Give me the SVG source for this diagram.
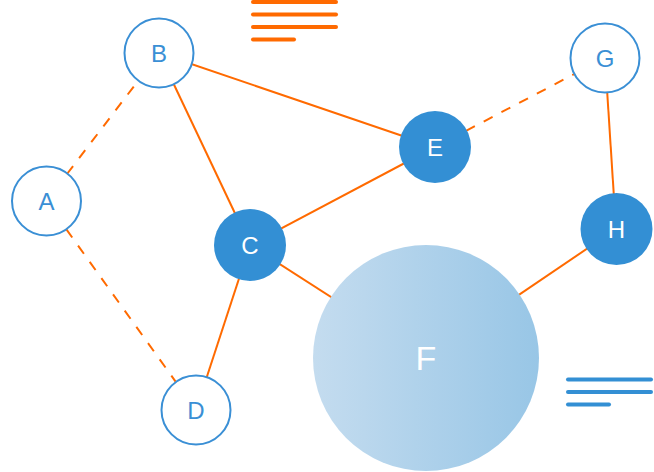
<svg xmlns="http://www.w3.org/2000/svg" width="654" height="472" viewBox="0 0 654 472">
  <defs>
    <linearGradient id="gradF" x1="0" y1="0" x2="1" y2="0">
      <stop offset="0" stop-color="#c4dcef"/>
      <stop offset="1" stop-color="#98c6e6"/>
    </linearGradient>
    <style>
      .edge { stroke: #ff6a00; stroke-width: 2; fill: none; }
      .dash { stroke-dasharray: 10 10; }
      .outline { fill: #ffffff; stroke: #3a8fd5; stroke-width: 2; }
      .filled { fill: #338fd4; }
      .lbl { font-family: "Liberation Sans", Arial, sans-serif; font-size: 24px; text-anchor: middle; dominant-baseline: central; }
      .lblB { fill: #3a8fd5; }
      .lblW { fill: #ffffff; }
      .deco-o { stroke: #ff6a00; stroke-width: 4; stroke-linecap: round; }
      .deco-b { stroke: #338fd4; stroke-width: 4; stroke-linecap: round; }
    </style>
  </defs>
  <rect width="654" height="472" fill="#ffffff"/>
  <g id="decor-top">
    <line class="deco-o" x1="253" y1="2" x2="336" y2="2"/>
    <line class="deco-o" x1="253" y1="14.5" x2="336" y2="14.5"/>
    <line class="deco-o" x1="253" y1="27" x2="336" y2="27"/>
    <line class="deco-o" x1="253" y1="39.5" x2="294" y2="39.5"/>
  </g>
  <g id="decor-bottom">
    <line class="deco-b" x1="568" y1="379.5" x2="651" y2="379.5"/>
    <line class="deco-b" x1="568" y1="392" x2="651" y2="392"/>
    <line class="deco-b" x1="568" y1="404.5" x2="609" y2="404.5"/>
  </g>
  <g id="edges">
    <line class="edge dash" x1="67" y1="174" x2="138" y2="81"/>
    <line class="edge dash" x1="66.4" y1="229.4" x2="175.6" y2="381.6"/>
    <line class="edge dash" x1="466" y1="130.8" x2="574" y2="74.2"/>
    <line class="edge" x1="159" y1="53" x2="250" y2="245"/>
    <line class="edge" x1="159" y1="53" x2="435" y2="147"/>
    <line class="edge" x1="250" y1="245" x2="435" y2="147"/>
    <line class="edge" x1="250" y1="245" x2="196" y2="410"/>
    <line class="edge" x1="250" y1="245" x2="426" y2="358"/>
    <line class="edge" x1="605" y1="58" x2="616" y2="229"/>
    <line class="edge" x1="616" y1="229" x2="426" y2="358"/>
  </g>
  <g id="node-A">
    <circle class="outline" cx="46.5" cy="201" r="34.5"/>
    <text class="lbl lblB" x="46.5" y="201">A</text>
  </g>
  <g id="node-B">
    <circle class="outline" cx="159" cy="53" r="34.5"/>
    <text class="lbl lblB" x="159" y="53">B</text>
  </g>
  <g id="node-C">
    <circle class="filled" cx="250" cy="245" r="36"/>
    <text class="lbl lblW" x="250" y="245">C</text>
  </g>
  <g id="node-D">
    <circle class="outline" cx="196" cy="410" r="34.5"/>
    <text class="lbl lblB" x="196" y="410">D</text>
  </g>
  <g id="node-E">
    <circle class="filled" cx="435" cy="147" r="36"/>
    <text class="lbl lblW" x="435" y="147">E</text>
  </g>
  <g id="node-F">
    <circle fill="url(#gradF)" cx="426" cy="358" r="113"/>
    <text class="lbl lblW" x="426" y="358" style="font-size:34px">F</text>
  </g>
  <g id="node-G">
    <circle class="outline" cx="605" cy="58" r="34.5"/>
    <text class="lbl lblB" x="605" y="58">G</text>
  </g>
  <g id="node-H">
    <circle class="filled" cx="616.5" cy="229" r="36"/>
    <text class="lbl lblW" x="616.5" y="229">H</text>
  </g>
</svg>
